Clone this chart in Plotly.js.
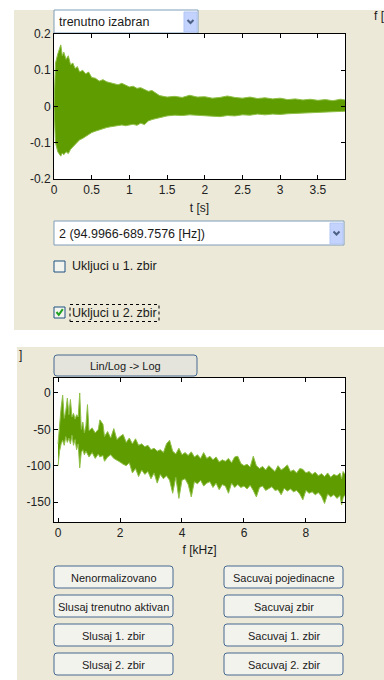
<!DOCTYPE html>
<html><head><meta charset="utf-8">
<script src="https://cdn.plot.ly/plotly-3.0.1.min.js"></script>
<style>html,body{margin:0;padding:0;background:#fff;}#chart{width:384px;height:680px;}</style>
</head><body><div id="chart"></div>
<script>
// ---------- data ----------
const timeS = [0,0.02,0.05,0.07,0.09,0.11,0.13,0.16,0.19,0.22,
  0.25,0.28,0.31,0.34,0.38,0.42,0.46,0.5,0.55,0.6,
  0.65,0.7,0.75,0.8,0.85,0.9,0.95,1.0,1.05,1.1,
  1.15,1.2,1.25,1.3,1.35,1.4,1.45,1.5,1.6,1.7,
  1.8,1.9,2.0,2.1,2.2,2.3,2.4,2.5,2.6,2.7,
  2.8,2.9,3.0,3.1,3.2,3.3,3.4,3.5,3.6,3.7,
  3.8,3.86];
const waveUpper = [0,0.12,0.145,0.16,0.17,0.14,0.15,0.13,0.14,0.115,
  0.12,0.105,0.11,0.095,0.1,0.09,0.095,0.08,0.078,0.07,
  0.074,0.068,0.066,0.062,0.06,0.064,0.058,0.054,0.056,0.05,
  0.052,0.046,0.042,0.044,0.036,0.03,0.028,0.026,0.028,0.025,
  0.031,0.026,0.027,0.023,0.025,0.029,0.025,0.023,0.026,0.022,
  0.024,0.021,0.023,0.019,0.021,0.018,0.02,0.017,0.019,0.016,
  0.02,0.018];
const waveLower = [0,-0.1,-0.125,-0.13,-0.137,-0.128,-0.133,-0.125,-0.13,-0.118,
  -0.112,-0.104,-0.098,-0.092,-0.088,-0.082,-0.078,-0.072,-0.068,-0.064,
  -0.06,-0.058,-0.056,-0.055,-0.052,-0.051,-0.053,-0.05,-0.049,-0.052,
  -0.046,-0.05,-0.04,-0.036,-0.033,-0.03,-0.028,-0.026,-0.024,-0.025,
  -0.023,-0.024,-0.025,-0.026,-0.028,-0.025,-0.026,-0.023,-0.024,-0.021,
  -0.023,-0.021,-0.022,-0.02,-0.019,-0.019,-0.018,-0.017,-0.016,-0.015,
  -0.014,-0.013];

const freqKHz = [0,0.05,0.1,0.15,0.2,0.25,0.3,0.35,0.4,0.45,
  0.5,0.55,0.6,0.65,0.7,0.75,0.8,0.85,0.9,0.95,
  1.0,1.1,1.2,1.3,1.35,1.45,1.5,1.6,1.7,1.8,
  1.9,2.0,2.1,2.2,2.3,2.4,2.5,2.6,2.7,2.8,
  2.9,3.0,3.1,3.2,3.3,3.4,3.5,3.6,3.7,3.8,
  3.9,4.0,4.1,4.2,4.3,4.4,4.5,4.6,4.7,4.8,
  4.9,5.0,5.1,5.2,5.3,5.4,5.5,5.6,5.7,5.8,
  5.9,6.0,6.1,6.2,6.3,6.4,6.5,6.6,6.7,6.8,
  6.9,7.0,7.1,7.2,7.3,7.4,7.5,7.6,7.7,7.8,
  7.9,8.0,8.1,8.2,8.3,8.4,8.5,8.6,8.7,8.8,
  8.9,9.0,9.1,9.15,9.2,9.26];
const specUpper = [-70,-40,-20,-3,-35,-25,-7,-30,-9,-33,
  -28,-36,-30,-33,0,-50,-40,-55,-45,-16,
  -52,-48,-55,-50,-37,-43,-60,-53,-62,-49,
  -64,-60,-57,-68,-62,-70,-63,-72,-70,-74,
  -72,-78,-76,-80,-78,-82,-70,-65,-80,-84,
  -76,-85,-82,-86,-81,-88,-85,-90,-82,-90,
  -87,-92,-88,-95,-92,-94,-90,-96,-88,-87,
  -97,-100,-98,-102,-87,-100,-104,-101,-106,-100,
  -104,-108,-100,-106,-103,-99,-108,-106,-110,-104,
  -105,-110,-108,-112,-109,-114,-111,-115,-110,-116,
  -112,-114,-110,-118,-108,-112];
const specLower = [-100,-80,-70,-65,-72,-60,-68,-62,-70,-58,
  -72,-64,-78,-70,-103,-82,-78,-85,-80,-84,
  -88,-82,-90,-84,-88,-86,-94,-88,-85,-90,
  -92,-95,-98,-100,-96,-110,-104,-115,-106,-112,
  -108,-118,-110,-124,-112,-118,-114,-120,-138,-116,
  -145,-120,-118,-126,-143,-122,-125,-120,-128,-124,
  -122,-130,-124,-133,-126,-128,-138,-124,-130,-126,
  -130,-128,-132,-127,-134,-143,-130,-128,-134,-131,
  -129,-134,-133,-140,-131,-135,-132,-136,-134,-139,
  -147,-134,-138,-136,-140,-137,-142,-152,-139,-143,
  -140,-145,-141,-154,-144,-140];

const timeTickVals = [0,0.5,1,1.5,2,2.5,3,3.5];
const timeTickText = ['0','0.5','1','1.5','2','2.5','3','3.5'];
const ampTickVals = [-0.2,-0.1,0,0.1,0.2];
const ampTickText = ['-0.2','-0.1','0','0.1','0.2'];
const freqTickVals = [0,2,4,6,8];
const freqTickText = ['0','2','4','6','8'];
const levelTickVals = [-150,-100,-50,0];
const levelTickText = ['-150','-100','-50','0'];

const selectLabel = 'trenutno izabran';
const bandLabel = '2 (94.9966-689.7576 [Hz])';
const check1Label = 'Ukljuci u 1. zbir';
const check2Label = 'Ukljuci u 2. zbir';
const scaleButtonLabel = 'Lin/Log -> Log';
const leftButtons = ['Nenormalizovano','Slusaj trenutno aktivan','Slusaj 1. zbir','Slusaj 2. zbir'];
const rightButtons = ['Sacuvaj pojedinacne','Sacuvaj zbir','Sacuvaj 1. zbir','Sacuvaj 2. zbir'];

// ---------- layout helpers (pixel -> paper) ----------
const W = 384, H = 680;
const px = x => x / W, py = y => 1 - y / H;
const BEIGE = '#ece9d8';
const FONT = 'Liberation Sans, Arial, sans-serif';
const TXT = '#1a1a1a';
const shapes = [];
const annotations = [];
function rect(x0, y0, x1, y1, fill, stroke, lw, dash) {
  shapes.push({type:'rect', xref:'paper', yref:'paper', layer:'below',
    x0:px(x0), x1:px(x1), y0:py(y1), y1:py(y0), fillcolor:fill,
    line:{color:stroke || 'rgba(0,0,0,0)', width:lw || 0, dash:dash || 'solid'}});
}
function path(pts, stroke, lw) {
  const d = pts.map((p, i) => (i ? 'L' : 'M') + px(p[0]) + ',' + py(p[1])).join(' ');
  shapes.push({type:'path', xref:'paper', yref:'paper', layer:'below', path:d,
    line:{color:stroke, width:lw}});
}
function rrect(x0, y0, x1, y1, r, fill, stroke) {
  const P = (x, y) => px(x) + ',' + py(y);
  const d = 'M' + P(x0 + r, y0) + ' L' + P(x1 - r, y0) + ' Q' + P(x1, y0) + ' ' + P(x1, y0 + r) +
    ' L' + P(x1, y1 - r) + ' Q' + P(x1, y1) + ' ' + P(x1 - r, y1) +
    ' L' + P(x0 + r, y1) + ' Q' + P(x0, y1) + ' ' + P(x0, y1 - r) +
    ' L' + P(x0, y0 + r) + ' Q' + P(x0, y0) + ' ' + P(x0 + r, y0) + ' Z';
  shapes.push({type:'path', xref:'paper', yref:'paper', layer:'below', path:d,
    fillcolor:fill, line:{color:stroke, width:1}});
}
function text(t, x, y, size, anchor) {
  annotations.push({text:t, xref:'paper', yref:'paper', x:px(x), y:py(y),
    xanchor:anchor || 'left', yanchor:'middle', showarrow:false,
    font:{family:FONT, size:size, color:TXT}});
}
function combo(x0, y0, x1, y1, label) {
  rect(x0, y0, x1, y1, '#ffffff', '#7f9db9', 1);
  rect(x1 - 14, y0 + 2, x1 - 1, y1 - 1, '#c3d3fd', '#b1c5f4', 1);
  const cx = x1 - 7.5, cy = (y0 + y1) / 2;
  path([[cx - 3, cy - 1.5], [cx, cy + 1.5], [cx + 3, cy - 1.5]], '#4d6185', 2);
  text(label, x0 + 3, (y0 + y1) / 2 + 0.5, 12.5);
}
function button(x0, y0, x1, y1, label, fill) {
  rrect(x0, y0, x1, y1, 3, fill || '#f3f3ee', '#46698f');
  text(label, (x0 + x1) / 2, (y0 + y1) / 2 + 0.5, 11, 'center');
}

// panels
rect(14, 10, 384, 330, BEIGE);
rect(17, 347, 384, 680, BEIGE);
// axes backgrounds
rect(54, 34, 345, 179, '#ffffff');
rect(54, 378, 345, 522, '#ffffff');

// top widgets
combo(54, 10, 198, 33, selectLabel);
combo(54, 221, 344, 245, bandLabel);
rect(54, 261, 65, 272, '#f4f4ef', '#1c5180', 1);
text(check1Label, 70, 266.5, 12.5);
rect(54, 307, 65, 318, '#f4f4ef', '#1c5180', 1);
path([[56.5, 312], [58.8, 314.8], [62.8, 309.2]], '#21a121', 2);
rect(70, 304.5, 159, 321.5, 'rgba(0,0,0,0)', '#000', 1, 'dot');
text(check2Label, 70, 313, 12.5);
text('f [', 372, 16, 12);
text(']', 17, 355, 12);

// bottom widgets
button(54, 355, 197, 376, scaleButtonLabel, '#e4e3dc');
const rowsY = [[566, 588], [595, 617], [624, 646], [653, 675]];
leftButtons.forEach((b, i) => button(54, rowsY[i][0], 173, rowsY[i][1], b));
rightButtons.forEach((b, i) => button(224, rowsY[i][0], 343, rowsY[i][1], b));

// ---------- traces ----------
const DARK = '#5e9c00', EDGE = '#8fbf47';
const traces = [
  {x:timeS, y:waveLower, type:'scatter', mode:'lines', line:{color:EDGE, width:1}, xaxis:'x', yaxis:'y'},
  {x:timeS, y:waveUpper, type:'scatter', mode:'lines', line:{color:EDGE, width:1}, fill:'tonexty', fillcolor:DARK, xaxis:'x', yaxis:'y'},
  {x:freqKHz, y:specLower, type:'scatter', mode:'lines', line:{color:EDGE, width:1}, xaxis:'x2', yaxis:'y2'},
  {x:freqKHz, y:specUpper, type:'scatter', mode:'lines', line:{color:EDGE, width:1}, fill:'tonexty', fillcolor:DARK, xaxis:'x2', yaxis:'y2'}
];

const tickFont = {family:FONT, size:12, color:'#222'};
const axisBase = {showline:true, linecolor:'#000', linewidth:1, mirror:'ticks', ticks:'inside',
  ticklen:4, tickcolor:'#000', showgrid:false, zeroline:false, tickfont:tickFont, automargin:false, fixedrange:true};

const layout = {
  width:W, height:H, margin:{l:0, r:0, t:0, b:0}, showlegend:false,
  paper_bgcolor:'#ffffff', plot_bgcolor:'rgba(0,0,0,0)',
  xaxis:Object.assign({}, axisBase, {domain:[px(54), px(345)], range:[0, 3.86], anchor:'y',
    tickmode:'array', tickvals:timeTickVals, ticktext:timeTickText,
    title:{text:'t [s]', font:{family:FONT, size:12, color:TXT}, standoff:7}}),
  yaxis:Object.assign({}, axisBase, {domain:[py(179), py(34)], range:[-0.2, 0.2], anchor:'x',
    tickmode:'array', tickvals:ampTickVals, ticktext:ampTickText}),
  xaxis2:Object.assign({}, axisBase, {domain:[px(54), px(345)], range:[-0.13, 9.26], anchor:'y2',
    tickmode:'array', tickvals:freqTickVals, ticktext:freqTickText,
    title:{text:'f [kHz]', font:{family:FONT, size:12, color:TXT}, standoff:6}}),
  yaxis2:Object.assign({}, axisBase, {domain:[py(522), py(378)], range:[-177.5, 20.6], anchor:'x2',
    tickmode:'array', tickvals:levelTickVals, ticktext:levelTickText}),
  shapes:shapes, annotations:annotations
};

Plotly.newPlot('chart', traces, layout, {displayModeBar:false, staticPlot:true});
</script></body></html>
